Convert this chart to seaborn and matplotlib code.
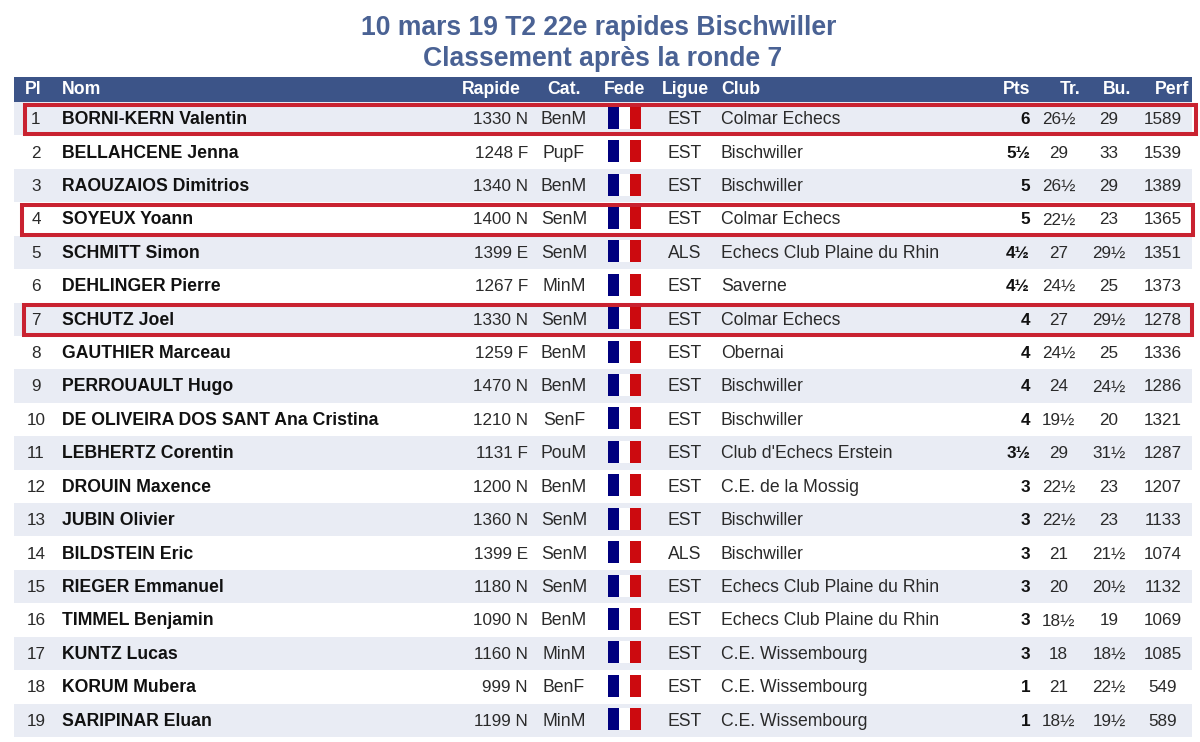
import matplotlib
matplotlib.use('Agg')
import matplotlib.pyplot as plt
import numpy as np
import seaborn as sns
from matplotlib.colors import ListedColormap
from matplotlib.patches import Rectangle

title_lines = ['10 mars 19 T2 22e rapides Bischwiller', 'Classement après la ronde 7']

surnames = ['BORNI-KERN', 'BELLAHCENE', 'RAOUZAIOS', 'SOYEUX', 'SCHMITT', 'DEHLINGER', 'SCHUTZ',
            'GAUTHIER', 'PERROUAULT', 'DE OLIVEIRA DOS SANT', 'LEBHERTZ', 'DROUIN', 'JUBIN',
            'BILDSTEIN', 'RIEGER', 'TIMMEL', 'KUNTZ', 'KORUM', 'SARIPINAR']
firstnames = ['Valentin', 'Jenna', 'Dimitrios', 'Yoann', 'Simon', 'Pierre', 'Joel', 'Marceau', 'Hugo',
              'Ana Cristina', 'Corentin', 'Maxence', 'Olivier', 'Eric', 'Emmanuel', 'Benjamin',
              'Lucas', 'Mubera', 'Eluan']
ratings = ['1330 N', '1248 F', '1340 N', '1400 N', '1399 E', '1267 F', '1330 N', '1259 F', '1470 N',
           '1210 N', '1131 F', '1200 N', '1360 N', '1399 E', '1180 N', '1090 N', '1160 N', '999 N',
           '1199 N']
cats = ['BenM', 'PupF', 'BenM', 'SenM', 'SenM', 'MinM', 'SenM', 'BenM', 'BenM', 'SenF', 'PouM',
        'BenM', 'SenM', 'SenM', 'SenM', 'BenM', 'MinM', 'BenF', 'MinM']
leagues = ['EST', 'EST', 'EST', 'EST', 'ALS', 'EST', 'EST', 'EST', 'EST', 'EST', 'EST', 'EST', 'EST',
           'ALS', 'EST', 'EST', 'EST', 'EST', 'EST']
clubs = ['Colmar Echecs', 'Bischwiller', 'Bischwiller', 'Colmar Echecs', 'Echecs Club Plaine du Rhin',
         'Saverne', 'Colmar Echecs', 'Obernai', 'Bischwiller', 'Bischwiller', "Club d'Echecs Erstein",
         'C.E. de la Mossig', 'Bischwiller', 'Bischwiller', 'Echecs Club Plaine du Rhin',
         'Echecs Club Plaine du Rhin', 'C.E. Wissembourg', 'C.E. Wissembourg', 'C.E. Wissembourg']
pts = ['6', '5½', '5', '5', '4½', '4½', '4', '4', '4', '4', '3½', '3', '3', '3', '3', '3', '3', '1', '1']
tr = ['26½', '29', '26½', '22½', '27', '24½', '27', '24½', '24', '19½', '29', '22½', '22½', '21', '20',
      '18½', '18', '21', '18½']
bu = ['29', '33', '29', '23', '29½', '25', '29½', '25', '24½', '20', '31½', '23', '23', '21½', '20½',
      '19', '18½', '22½', '19½']
perf = ['1589', '1539', '1389', '1365', '1351', '1373', '1278', '1336', '1286', '1321', '1287', '1207',
        '1133', '1074', '1132', '1069', '1085', '549', '589']
highlighted = [1, 4, 7]

W, H = 1200, 742
TOP, ROW_H = 102, 33.42
LEFT, RIGHT = 14, 1192
BODY = 12.7
NUM = 12.3

sns.set_theme(style='white')
plt.rcParams['font.family'] = ['Liberation Sans', 'DejaVu Sans']

fig = plt.figure(figsize=(W / 100, H / 100), dpi=100)
fig.patch.set_facecolor('white')

# striped rows
n = len(surnames)
stripe_ax = fig.add_axes([LEFT / W, 1 - (TOP + n * ROW_H) / H, (RIGHT - LEFT) / W, n * ROW_H / H])
stripes = (np.arange(n) % 2 == 0).astype(int).reshape(-1, 1)
sns.heatmap(stripes, ax=stripe_ax, cbar=False, vmin=0, vmax=1, cmap=ListedColormap(['white', '#e9ecf4']),
            xticklabels=False, yticklabels=False)

# everything else goes on an overlay in pixel units
ax = fig.add_axes([0, 0, 1, 1], facecolor='none')
ax.set_xlim(0, W)
ax.set_ylim(H, 0)
ax.axis('off')

ax.add_patch(Rectangle((LEFT, 77), RIGHT - LEFT, 25, color='#3c5488', lw=0))

ax.text(599, 28, title_lines[0], ha='center', va='center', color='#4a6294', fontsize=19.1, fontweight='bold')
ax.text(602.5, 59, title_lines[1], ha='center', va='center', color='#4a6294', fontsize=19.1, fontweight='bold')

headers = [('Pl', 33.5, 'center'), ('Nom', 62, 'left'), ('Rapide', 521, 'right'), ('Cat.', 564, 'center'),
           ('Fede', 624.5, 'center'), ('Ligue', 685, 'center'), ('Club', 721, 'left'), ('Pts', 1030, 'right'),
           ('Tr.', 1081, 'right'), ('Bu.', 1131, 'right'), ('Perf', 1189, 'right')]
for label, x, ha in headers:
    ax.text(x, 89.5, label, ha=ha, va='center', color='white', fontsize=BODY, fontweight='bold')

text_c = '#2a2a2a'
for i in range(n):
    y = TOP + ROW_H * (i + 0.5) + 5.4
    ax.text(36, y, str(i + 1), ha='center', va='baseline', color=text_c, fontsize=NUM)
    ax.text(62, y, surnames[i] + ' ' + firstnames[i], ha='left', va='baseline', color='#111111',
            fontsize=BODY, fontweight='bold')
    ax.text(528, y, ratings[i], ha='right', va='baseline', color=text_c, fontsize=NUM)
    ax.text(564, y, cats[i], ha='center', va='baseline', color=text_c, fontsize=BODY)
    ax.text(685, y, leagues[i], ha='center', va='baseline', color=text_c, fontsize=BODY)
    ax.text(721, y, clubs[i], ha='left', va='baseline', color=text_c, fontsize=BODY)
    ax.text(1030, y, pts[i], ha='right', va='baseline', color='#111111', fontsize=NUM, fontweight='bold')
    ax.text(1058.5, y, tr[i], ha='center', va='baseline', color=text_c, fontsize=NUM)
    ax.text(1109, y, bu[i], ha='center', va='baseline', color=text_c, fontsize=NUM)
    ax.text(1163, y, perf[i], ha='center', va='baseline', color=text_c, fontsize=NUM)

    # flag
    fy = TOP + ROW_H * (i + 0.5) - 1
    for x0, col in [(608, '#00007e'), (619, 'white'), (630, '#cc0a0f')]:
        ax.add_patch(Rectangle((x0, fy - 11), 11, 22, color=col, lw=0))

# red boxes around the Colmar players
boxes = {1: (24.5, 1195.5), 4: (21.5, 1192.5), 7: (24, 1191.5)}
for rank in highlighted:
    x0, x1 = boxes[rank]
    y0 = TOP + ROW_H * (rank - 1) + 2.5
    ax.add_patch(Rectangle((x0, y0), x1 - x0, ROW_H - 3.5, fill=False, ec='#c92230', lw=2.9, zorder=5))

fig.savefig('out.png', dpi=100)
